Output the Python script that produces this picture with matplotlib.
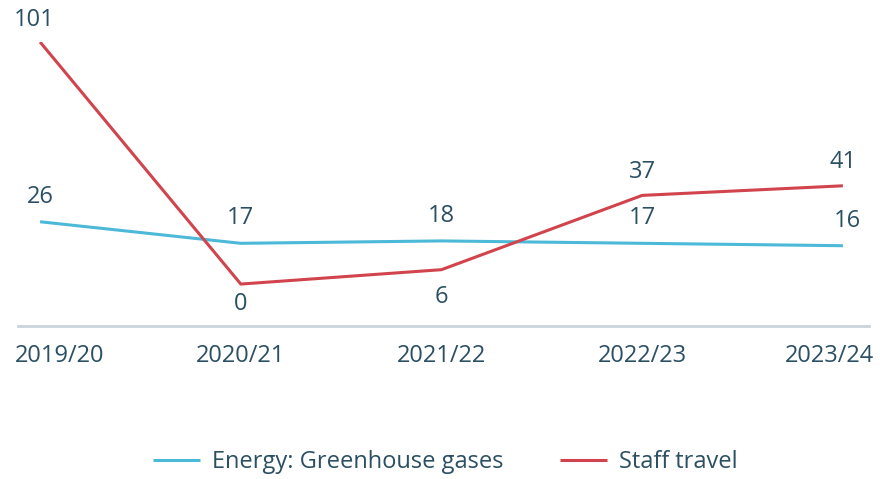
import matplotlib
matplotlib.use("Agg")
import matplotlib.pyplot as plt
import matplotlib.transforms as mtransforms

plt.rcParams['font.family'] = ['Open Sans', 'DejaVu Sans']

years = ["2019/20", "2020/21", "2021/22", "2022/23", "2023/24"]
energy = [26, 17, 18, 17, 16]
travel = [101, 0, 6, 37, 41]

blue = "#4db9d8"
red = "#d1444d"
txt = "#2b4f63"
fs = 17

fig = plt.figure(figsize=(8.8, 4.79), dpi=100)
ax = fig.add_axes([18 / 880, 153 / 479, 851 / 880, 284 / 479])

x = list(range(len(years)))
ax.plot(x, energy, color=blue, lw=2.2, label="Energy: Greenhouse gases", solid_capstyle="butt")
ax.plot(x, travel, color=red, lw=2.2, label="Staff travel", solid_capstyle="butt")

# value labels: energy always above, travel above or below
for i, v in enumerate(energy):
    ax.annotate(str(v), (i, v), xytext=(3 if i == 4 else 0, 18), textcoords="offset points",
                ha="center", va="center", fontsize=fs, color=txt)
travel_off = [16, -14, -20, 17, 17]
for i, v in enumerate(travel):
    ax.annotate(str(v), (i, v), xytext=(-4 if i == 0 else 0, travel_off[i]),
                textcoords="offset points", ha="center", va="center",
                fontsize=fs, color=txt)

ax.set_xlim(-0.11, 4.13)
ax.set_ylim(-17.5, 101)
ax.set_xticks(x)
ax.set_xticklabels(years, fontsize=fs, color=txt)
ax.tick_params(axis="x", length=0, pad=13)
ax.set_yticks([])
for s in ["top", "right", "left"]:
    ax.spines[s].set_visible(False)
ax.spines["bottom"].set_color("#c9d4db")
ax.spines["bottom"].set_linewidth(2)

# end labels are pulled in towards the middle
lbls = ax.get_xticklabels()
lbls[0].set_transform(lbls[0].get_transform() + mtransforms.ScaledTranslation(20 / 100, 0, fig.dpi_scale_trans))
lbls[-1].set_transform(lbls[-1].get_transform() + mtransforms.ScaledTranslation(-13 / 100, 0, fig.dpi_scale_trans))

fig.legend(loc="center", bbox_to_anchor=(445 / 880, 1 - 462 / 479), ncol=2, frameon=False,
           fontsize=fs, labelcolor=txt, handlelength=2.0, columnspacing=2.4, handletextpad=0.5)

fig.savefig("out.png", dpi=100)
